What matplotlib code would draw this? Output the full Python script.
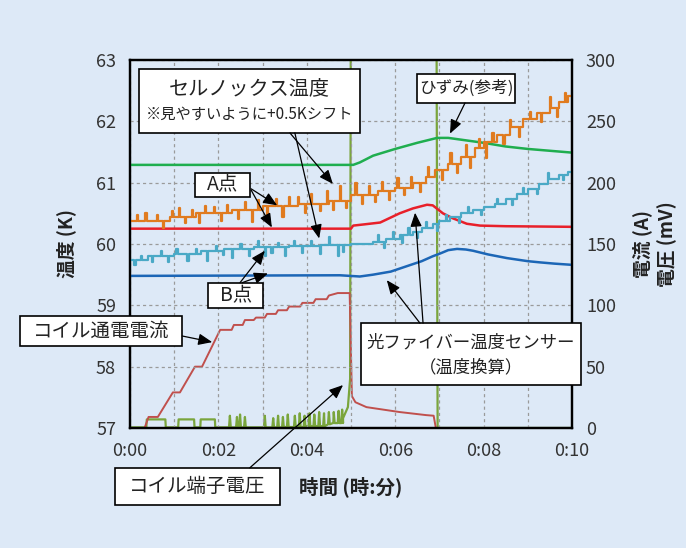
import numpy as np
import matplotlib.pyplot as plt
from matplotlib.patches import Rectangle

plt.rcParams['font.family'] = ['Noto Sans CJK JP', 'DejaVu Sans']

# 時間軸は分単位 (0:00 - 0:10)
minute_ticks = [0, 2, 4, 6, 8, 10]
minute_labels = ['0:00', '0:02', '0:04', '0:06', '0:08', '0:10']

# ひずみ(参考) [K軸上に表示]
strain_t = [0, 5.05, 5.2, 5.5, 6.0, 6.5, 6.95, 7.2, 7.4, 8.0, 8.5, 9.0, 9.5, 10]
strain_k = [61.29, 61.29, 61.33, 61.44, 61.55, 61.65, 61.73, 61.73, 61.71, 61.65, 61.59, 61.55, 61.52, 61.49]

# 光ファイバー温度センサー A点
fiber_a_t = [0, 5.0, 5.05, 5.3, 5.66, 6.1, 6.4, 6.72, 6.85, 7.08, 7.3, 7.62, 7.92, 8.5, 10]
fiber_a_k = [60.25, 60.25, 60.30, 60.32, 60.35, 60.50, 60.58, 60.64, 60.63, 60.50, 60.42, 60.33, 60.30, 60.29, 60.28]

# 光ファイバー温度センサー B点
fiber_b_t = [0, 4.75, 5.2, 5.5, 5.9, 6.27, 6.6, 6.85, 7.0, 7.2, 7.4, 7.6, 7.76, 8.1, 8.53, 9.0, 9.28, 9.6, 10]
fiber_b_k = [59.48, 59.49, 59.47, 59.50, 59.55, 59.64, 59.72, 59.80, 59.84, 59.90, 59.92, 59.91, 59.89, 59.83,
             59.77, 59.72, 59.70, 59.68, 59.66]

# セルノックス温度 A点 (+0.5K シフト済み) : 段階値とノイズ
cernox_a_step_t = [0, 0.9, 1.5, 2.3, 3.0, 3.8, 4.5, 5.0, 5.6, 6.0, 6.4, 6.7, 6.9, 7.2, 7.5, 7.8, 8.0, 8.3,
                   8.6, 8.9, 9.2, 9.5, 9.7, 9.9]
cernox_a_step_k = [60.38, 60.44, 60.50, 60.56, 60.62, 60.66, 60.70, 60.80, 60.86, 60.92, 61.00, 61.10, 61.20,
                   61.30, 61.42, 61.56, 61.66, 61.78, 61.90, 62.04, 62.14, 62.22, 62.32, 62.42]
cernox_a_spike_t = [0.15, 0.35, 0.6, 0.75, 0.95, 1.1, 1.25, 1.4, 1.55, 1.7, 1.9, 2.05, 2.2, 2.45, 2.6, 2.75,
                    2.9, 3.1, 3.3, 3.45, 3.6, 3.8, 3.95, 4.1, 4.3, 4.45, 4.6, 4.75, 4.88,
                    5.1, 5.25, 5.4, 5.55, 5.7, 5.85, 6.05, 6.2, 6.35, 6.55, 6.75, 7.05, 7.25, 7.4, 7.6,
                    7.7, 7.9, 8.05, 8.2, 8.45, 8.6, 8.8, 9.05, 9.3, 9.5, 9.65, 9.85]
cernox_a_spike_dk = [0.10, 0.12, 0.10, -0.12, 0.10, 0.15, -0.10, 0.12, -0.15, 0.12, 0.10, -0.12, 0.14, -0.15,
                     0.12, -0.20, 0.15, -0.22, 0.12, -0.18, 0.14, 0.10, -0.15, 0.15, -0.12, 0.20, -0.15, 0.25,
                     -0.12,
                     0.20, -0.15, 0.15, -0.12, 0.15, -0.15, 0.15, -0.12, 0.18, -0.15, 0.15, -0.15, 0.18, -0.15,
                     0.20, -0.18, 0.15, -0.25, 0.15, -0.15, 0.12, -0.15, 0.12, -0.15, 0.18, -0.15, 0.15]

# セルノックス温度 B点 (+0.5K シフト済み)
cernox_b_step_t = [0, 0.4, 1.0, 1.6, 2.1, 2.8, 3.6, 4.3, 5.0, 5.5, 5.8, 6.1, 6.4, 6.6, 6.85, 7.0, 7.25, 7.5,
                   7.75, 8.0, 8.25, 8.5, 8.75, 9.0, 9.25, 9.45, 9.7, 9.9]
cernox_b_step_k = [59.74, 59.80, 59.84, 59.88, 59.92, 59.95, 59.97, 59.99, 60.00, 60.04, 60.08, 60.14, 60.20,
                   60.26, 60.32, 60.38, 60.44, 60.50, 60.56, 60.60, 60.66, 60.74, 60.82, 60.90, 60.98, 61.06,
                   61.12, 61.18]
cernox_b_spike_t = [0.1, 0.25, 0.5, 0.7, 0.85, 1.05, 1.3, 1.5, 1.75, 1.95, 2.1, 2.3, 2.5, 2.7, 2.9, 3.05,
                    3.2, 3.35, 3.5, 3.7, 3.9, 4.1, 4.3, 4.5, 4.7, 4.82, 5.6, 5.75, 5.95, 6.15, 6.3, 6.5,
                    6.7, 6.95, 7.15, 7.45, 7.65, 7.95, 8.3, 8.65, 8.9, 9.2, 9.45, 9.8]
cernox_b_spike_dk = [-0.08, 0.06, -0.10, 0.08, -0.10, 0.08, -0.12, 0.08, -0.15, 0.08, -0.10, -0.15, 0.08,
                     -0.12, 0.10, -0.15, -0.10, 0.06, -0.15, 0.08, -0.12, 0.08, -0.15, 0.12, -0.18, -0.12,
                     0.10, -0.10, 0.12, -0.12, 0.12, -0.10, 0.10, -0.10, 0.10, -0.10, 0.10, -0.08, 0.08,
                     -0.10, 0.10, -0.08, 0.10, -0.08]

# コイル通電電流 [A]
current_t = [0, 0.33, 0.42, 0.63, 0.97, 1.13, 1.47, 1.63, 2.04, 2.3, 2.35, 2.55, 2.6, 2.8, 2.85, 3.05, 3.1,
             3.3, 3.35, 3.55, 3.6, 3.85, 3.9, 4.15, 4.2, 4.45, 4.5, 4.7, 4.97, 5.0, 5.02, 5.1, 5.35, 6.1,
             6.7, 6.87, 6.92, 10]
current_a = [0, 0, 9, 9, 29, 29, 50, 50, 80, 80, 84, 84, 88, 88, 90, 90, 93, 93, 96, 96, 99, 99, 102, 102,
             105, 105, 108, 110, 110, 60, 26, 21, 17, 13, 10.5, 10, 0, 0]

# コイル端子電圧 [mV] : 床値 + パルス
volt_floor_t = [0, 3.5, 4.0, 4.4, 4.6, 4.82, 4.93, 4.98, 5.0, 6.93, 6.96, 10]
volt_floor_mv = [0.5, 0.8, 1.5, 3, 4, 8, 17, 40, 400, 400, 0, 0]
volt_box_t0 = [0.38, 1.10, 1.60]
volt_box_t1 = [0.80, 1.45, 1.92]
volt_box_mv = [7, 7, 7]
volt_spike_t = [2.26, 2.42, 2.49, 2.6, 3.05, 3.24, 3.35, 3.46, 3.57, 3.73, 3.84, 3.95, 4.06, 4.17, 4.28,
                4.39, 4.5, 4.61, 4.72, 4.8]
volt_spike_mv = [10, 9, 11, 9, 10, 8, 10, 9, 11, 10, 12, 10, 12, 11, 13, 12, 13, 13, 14, 15]


def step_series(step_t, step_v, spike_t, spike_d, width=0.025, t_end=10.0):
    # 段階値の上に短いノイズパルスを重ねる
    times = sorted(set(step_t) | set(spike_t) | {s + width for s in spike_t} | {t_end})
    vals = []
    for tt in times:
        lvl = step_v[np.searchsorted(step_t, tt, side='right') - 1]
        if tt in spike_t:
            lvl = lvl + spike_d[spike_t.index(tt)]
        vals.append(lvl)
    return times, vals


def voltage_series():
    def floor(tt):
        return volt_floor_mv[np.searchsorted(volt_floor_t, tt, side='right') - 1]
    pts = list(zip(volt_floor_t, volt_floor_mv))
    for t0, t1, h in zip(volt_box_t0, volt_box_t1, volt_box_mv):
        pts += [(t0 - 0.01, floor(t0)), (t0, h), (t1, h), (t1 + 0.01, floor(t1))]
    for ts, h in zip(volt_spike_t, volt_spike_mv):
        pts += [(ts - 0.02, floor(ts)), (ts, h), (ts + 0.02, floor(ts))]
    pts.sort()
    return [p[0] for p in pts], [p[1] for p in pts]


fig = plt.figure(figsize=(6.86, 5.48), dpi=100, facecolor='#dde9f7')
ax = fig.add_axes([0.1895, 0.219, 0.6443, 0.6715])
ax2 = ax.twinx()
ax.set_zorder(ax2.get_zorder() + 1)
ax.patch.set_visible(False)
ax2.patch.set_facecolor('white')

# 右軸: 電流と電圧
vt, vv = voltage_series()
ax2.plot(vt, vv, color='#7aa53c', lw=1.6)
ax2.plot(current_t, current_a, color='#c0504d', lw=1.4)

# 左軸: 温度
ax.plot(strain_t, strain_k, color='#1fae4f', lw=1.8)
ax.plot(fiber_a_t, fiber_a_k, color='#e8202a', lw=1.8)
ax.plot(fiber_b_t, fiber_b_k, color='#1c66b6', lw=1.8)
bt, bk = step_series(cernox_b_step_t, cernox_b_step_k, cernox_b_spike_t, cernox_b_spike_dk)
ax.plot(bt, bk, color='#4aa9c6', lw=1.6, drawstyle='steps-post')
at, ak = step_series(cernox_a_step_t, cernox_a_step_k, cernox_a_spike_t, cernox_a_spike_dk)
ax.plot(at, ak, color='#e07b1f', lw=1.6, drawstyle='steps-post')

ax.set_xlim(0, 10)
ax.set_ylim(57, 63)
ax2.set_ylim(0, 300)
ax.set_xticks(minute_ticks)
ax.set_xticklabels(minute_labels)
ax.set_xticks(range(11), minor=True)
ax.set_yticks(range(57, 64))
ax2.set_yticks(range(0, 301, 50))
ax.grid(which='both', axis='x', color='#9a9a9a', ls=(0, (2.5, 2.5)), lw=0.9)
ax.grid(which='major', axis='y', color='#9a9a9a', ls=(0, (2.5, 2.5)), lw=0.9)
for a in (ax, ax2):
    a.tick_params(which='both', length=0, pad=10, labelsize=13, labelcolor='#333333')
    for sp in a.spines.values():
        sp.set_linewidth(1.6)
        sp.set_color('black')

ax.set_xlabel('時間 (時:分)', fontsize=14, fontweight='bold', labelpad=12, color='#222222')
ax.set_ylabel('温度 (K)', fontsize=13.5, fontweight='bold', labelpad=14, color='#222222')
ax2.set_ylabel('電流 (A)\n電圧 (mV)', fontsize=13.5, fontweight='bold', labelpad=12, color='#222222',
               linespacing=1.3)


def box(x0, x1, y0, y1):
    ax.add_patch(Rectangle((x0, y0), x1 - x0, y1 - y0, fc='white', ec='black', lw=1.2,
                           clip_on=False, zorder=6))


def arrow(tail, tip):
    ax.annotate('', xy=tip, xytext=tail, annotation_clip=False, zorder=7,
                arrowprops=dict(arrowstyle='-|>,head_length=0.6,head_width=0.25', color='black',
                                lw=0.9, mutation_scale=14, shrinkA=0, shrinkB=0))


def label(x, y, s, size):
    ax.text(x, y, s, ha='center', va='center', fontsize=size, color='#222222', zorder=8, clip_on=False)


# セルノックス温度
box(0.20, 5.20, 61.81, 62.85)
label(2.71, 62.53, 'セルノックス温度', 14.5)
label(2.71, 62.12, '※見やすいように+0.5Kシフト', 11)
arrow((3.62, 61.81), (4.59, 60.98))
arrow((3.73, 61.81), (4.28, 60.09))

# A点 / B点
box(1.47, 2.71, 60.76, 61.16)
label(2.09, 60.96, 'A点', 14)
arrow((2.74, 60.90), (3.33, 60.63))
arrow((2.74, 60.88), (3.21, 60.27))
box(1.76, 3.01, 58.95, 59.37)
label(2.39, 59.16, 'B点', 14)
arrow((2.49, 59.37), (3.05, 59.89))
arrow((2.54, 59.37), (3.12, 59.52))

# コイル通電電流
box(-2.49, 1.18, 58.33, 58.82)
label(-0.66, 58.57, 'コイル通電電流', 14)
arrow((1.18, 58.50), (1.86, 58.40))

# コイル端子電圧
box(-0.34, 3.39, 55.75, 56.35)
label(1.53, 56.05, 'コイル端子電圧', 14)
arrow((2.71, 56.35), (4.82, 57.70))

# 光ファイバー温度センサー
box(5.23, 10.2, 57.70, 58.71)
label(7.71, 58.40, '光ファイバー温度センサー', 12.5)
label(7.71, 57.99, '（温度換算）', 12.5)
arrow((6.56, 58.71), (5.81, 59.41))
arrow((6.63, 58.71), (6.45, 60.51))

# ひずみ
box(6.49, 8.71, 62.30, 62.77)
label(7.60, 62.54, 'ひずみ(参考)', 12)
arrow((7.58, 62.30), (7.24, 61.80))

fig.savefig('out.png', dpi=100, facecolor=fig.get_facecolor())
